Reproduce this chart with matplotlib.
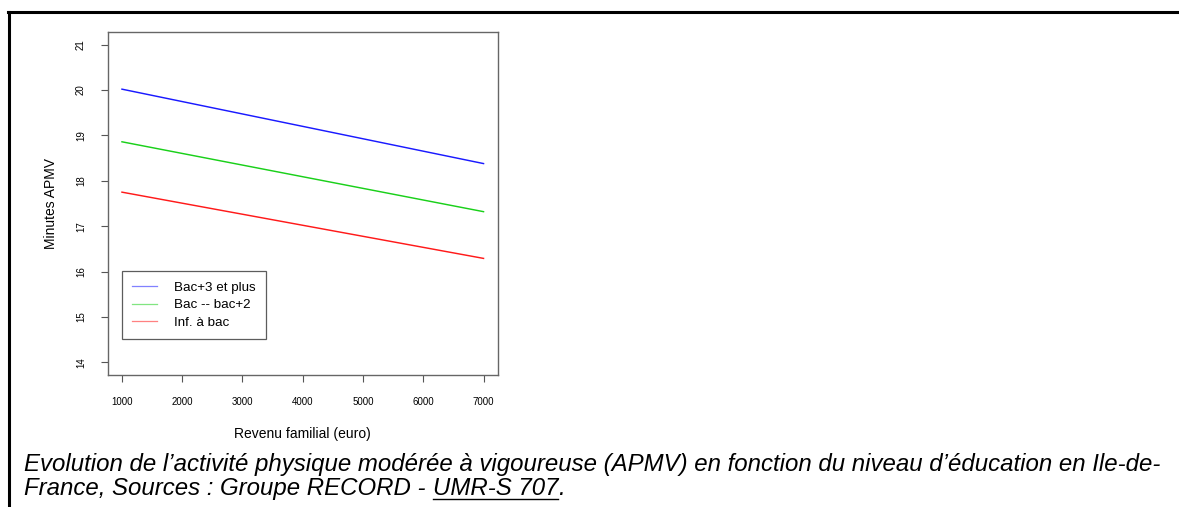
import matplotlib
matplotlib.use("Agg")
import matplotlib.pyplot as plt
from matplotlib.lines import Line2D

plt.rcParams["font.family"] = ["Liberation Sans", "DejaVu Sans"]

# ── Data ──────────────────────────────────────────────
revenu = [1000, 7000]
bac3_plus = [20.02, 18.38]
bac_bac2 = [18.86, 17.32]
inf_bac = [17.75, 16.29]

series_labels = ["Bac+3 et plus", "Bac -- bac+2", "Inf. à bac"]
series_colors = ["#1a1aff", "#1ad01a", "#ff1a1a"]

x_ticks = [1000, 2000, 3000, 4000, 5000, 6000, 7000]
y_ticks = [14, 15, 16, 17, 18, 19, 20, 21]

caption_1 = ("Evolution de l\u2019activité physique modérée à vigoureuse (APMV) "
             "en fonction du niveau d\u2019éducation en Ile-de-")
caption_2a = "France, Sources : Groupe RECORD - "
caption_2b = "UMR-S 707"
caption_2c = "."

W, H = 1179, 507
fig = plt.figure(figsize=(W / 100, H / 100), dpi=100)

# outer frame (top + left only)
fig.add_artist(Line2D([8 / W, 1.0], [1 - 11.5 / H, 1 - 11.5 / H],
                      color="black", lw=2.2, transform=fig.transFigure))
fig.add_artist(Line2D([8.5 / W, 8.5 / W], [1 - 11.5 / H, 0],
                      color="black", lw=2.2, transform=fig.transFigure))

ax = fig.add_axes([107.5 / W, 1 - 375 / H, (498 - 107.5) / W, (375 - 32) / H])

for ys, lab, col in zip([bac3_plus, bac_bac2, inf_bac], series_labels, series_colors):
    ax.plot(revenu, ys, color=col, lw=1.05, label=lab)

ax.set_xlim(760, 7240)
ax.set_ylim(13.72, 21.28)
ax.set_xticks(x_ticks)
ax.set_yticks(y_ticks)
ax.set_xticklabels([str(v) for v in x_ticks], fontsize=7)
ax.set_yticklabels([str(v) for v in y_ticks], fontsize=7, rotation=90, va="center")
ax.tick_params(axis="both", length=5, width=0.8, color="#555555", pad=10.5)

for s in ax.spines.values():
    s.set_color("#666666")
    s.set_linewidth(1.0)

ax.set_xlabel("Revenu familial (euro)", fontsize=10, labelpad=15)
ax.set_ylabel("Minutes APMV", fontsize=10, labelpad=13)

leg = ax.legend(loc="lower left", bbox_to_anchor=(0.037, 0.105), fontsize=9.6,
                frameon=True, fancybox=False, edgecolor="#333333",
                handlelength=1.9, handletextpad=1.25, borderpad=0.75,
                labelspacing=0.4, borderaxespad=0)
leg.get_frame().set_linewidth(0.9)
for h in leg.get_lines():
    h.set_linewidth(0.9)
    h.set_alpha(0.55)

# ── Caption ───────────────────────────────────────────
cap_kw = dict(fontsize=17.3, style="italic", va="baseline", ha="left")
x0 = 24.5 / W
y1 = 1 - 471 / H
y2 = 1 - 495 / H
fig.text(x0, y1, caption_1, **cap_kw)
t_a = fig.text(x0, y2, caption_2a, **cap_kw)

fig.canvas.draw()
renderer = fig.canvas.get_renderer()
bb_a = t_a.get_window_extent(renderer)
t_b = fig.text(bb_a.x1 / W, y2, caption_2b, **cap_kw)
fig.canvas.draw()
bb_b = t_b.get_window_extent(renderer)
fig.text(bb_b.x1 / W, y2, caption_2c, **cap_kw)
y_ul = 1 - 498.5 / H
fig.add_artist(Line2D([bb_b.x0 / W, bb_b.x1 / W], [y_ul, y_ul],
                      color="black", lw=1.0, transform=fig.transFigure))

fig.savefig("out.png", dpi=100)
